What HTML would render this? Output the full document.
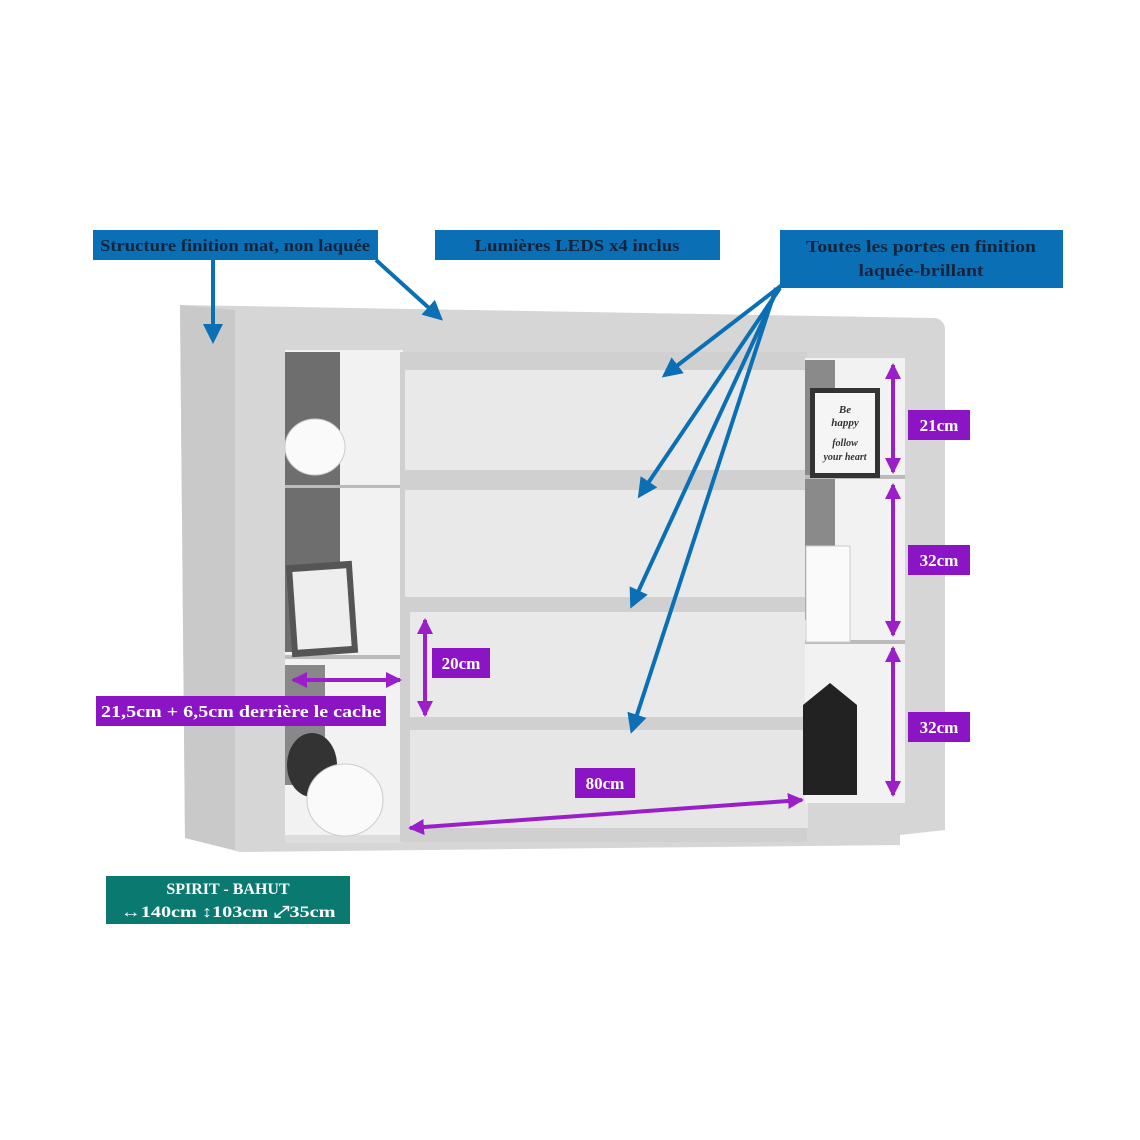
<!DOCTYPE html>
<html><head><meta charset="utf-8"><style>
html,body{margin:0;padding:0;background:#fff}
svg{display:block}
text{font-family:"Liberation Serif",serif;font-weight:bold}
</style></head><body>
<svg width="1140" height="1140" viewBox="0 0 1140 1140" xmlns="http://www.w3.org/2000/svg">
<defs>
<marker id="ab" markerWidth="5" markerHeight="5" refX="4" refY="2.5" orient="auto" markerUnits="strokeWidth"><path d="M0,0 L5,2.5 L0,5 z" fill="#0a6fb5"/></marker>
<marker id="ap" markerWidth="4" markerHeight="4" refX="3.5" refY="2" orient="auto-start-reverse" markerUnits="strokeWidth"><path d="M0,0 L4,2 L0,4 z" fill="#9a1fc9"/></marker>
</defs>
<!-- cabinet body -->
<path d="M180,305 L935,318 Q945,320 945,330 L945,830 L900,835 L900,845 L240,852 L185,838 Z" fill="#d6d6d6"/>
<path d="M180,305 L235,310 L235,850 L185,838 Z" fill="#c9c9c9"/>
<!-- left opening -->
<rect x="285" y="350" width="118" height="492" fill="#f2f2f2"/>
<rect x="285" y="352" width="55" height="300" fill="#6e6e6e"/>
<rect x="285" y="665" width="40" height="120" fill="#888"/>
<rect x="285" y="485" width="118" height="3" fill="#bbb"/>
<rect x="285" y="655" width="118" height="4" fill="#bbb"/>
<rect x="285" y="835" width="118" height="8" fill="#ddd"/>
<ellipse cx="315" cy="447" rx="30" ry="28" fill="#fafafa" stroke="#ccc"/>
<ellipse cx="312" cy="765" rx="25" ry="32" fill="#333"/>
<ellipse cx="345" cy="800" rx="38" ry="36" fill="#fafafa" stroke="#ccc"/>
<rect x="289" y="563" width="66" height="92" fill="#555" transform="rotate(-4 322 609)"/>
<rect x="295" y="570" width="54" height="78" fill="#eee" transform="rotate(-4 322 609)"/>
<!-- center drawers -->
<rect x="400" y="352" width="407" height="490" fill="#d0d0d0"/>
<rect x="405" y="370" width="402" height="100" fill="#e9e9e9"/>
<rect x="405" y="490" width="402" height="107" fill="#e9e9e9"/>
<rect x="410" y="612" width="398" height="105" fill="#e9e9e9"/>
<rect x="410" y="730" width="398" height="98" fill="#e6e6e6"/>
<!-- right opening -->
<rect x="805" y="358" width="100" height="445" fill="#f2f2f2"/>
<rect x="805" y="360" width="30" height="260" fill="#8a8a8a"/>
<rect x="805" y="475" width="100" height="4" fill="#bbb"/>
<rect x="805" y="640" width="100" height="4" fill="#bbb"/>
<rect x="810" y="388" width="70" height="90" fill="#333"/>
<rect x="815" y="393" width="60" height="80" fill="#f5f5f5"/>
<text x="845" y="413" font-size="11" text-anchor="middle" fill="#333" font-style="italic" font-weight="normal">Be</text>
<text x="845" y="426" font-size="11" text-anchor="middle" fill="#333" font-style="italic" font-weight="normal">happy</text>
<text x="845" y="446" font-size="10" text-anchor="middle" fill="#333" font-style="italic" font-weight="normal">follow</text>
<text x="845" y="460" font-size="10" text-anchor="middle" fill="#333" font-style="italic" font-weight="normal">your heart</text>
<rect x="806" y="546" width="44" height="96" fill="#fafafa" stroke="#ccc"/>
<path d="M803,795 L803,705 L830,683 L857,705 L857,795 Z" fill="#222"/>
<!-- blue labels -->
<rect x="93" y="230" width="285" height="30" fill="#0a6fb5"/>
<text x="235" y="251" font-size="17" text-anchor="middle" fill="#14243c" textLength="270" lengthAdjust="spacingAndGlyphs">Structure finition mat, non laquée</text>
<rect x="435" y="230" width="285" height="30" fill="#0a6fb5"/>
<text x="577" y="251" font-size="17" text-anchor="middle" fill="#14243c" textLength="205" lengthAdjust="spacingAndGlyphs">Lumières LEDS x4 inclus</text>
<rect x="780" y="230" width="283" height="58" fill="#0a6fb5"/>
<text x="921" y="252" font-size="17" text-anchor="middle" fill="#14243c" textLength="230" lengthAdjust="spacingAndGlyphs">Toutes les portes en finition</text>
<text x="921" y="276" font-size="17" text-anchor="middle" fill="#14243c" textLength="125" lengthAdjust="spacingAndGlyphs">laquée-brillant</text>
<!-- blue arrows -->
<g stroke="#0a6fb5" stroke-width="4" fill="none" marker-end="url(#ab)">
<line x1="213" y1="260" x2="213" y2="340"/>
<line x1="376" y1="260" x2="440" y2="318"/>
<line x1="782" y1="285" x2="665" y2="375"/>
<line x1="780" y1="288" x2="640" y2="495"/>
<line x1="778" y1="288" x2="632" y2="605"/>
<line x1="776" y1="288" x2="632" y2="730"/>
</g>
<!-- purple dims -->
<g stroke="#9a1fc9" stroke-width="4" fill="none" marker-start="url(#ap)" marker-end="url(#ap)">
<line x1="893" y1="365" x2="893" y2="472"/>
<line x1="893" y1="485" x2="893" y2="635"/>
<line x1="893" y1="648" x2="893" y2="795"/>
<line x1="425" y1="620" x2="425" y2="715"/>
<line x1="293" y1="680" x2="400" y2="680"/>
<line x1="410" y1="828" x2="802" y2="800"/>
</g>
<g fill="#8b14c4">
<rect x="908" y="410" width="62" height="30"/>
<rect x="908" y="545" width="62" height="30"/>
<rect x="908" y="712" width="62" height="30"/>
<rect x="432" y="648" width="58" height="30"/>
<rect x="96" y="696" width="290" height="30"/>
<rect x="575" y="768" width="60" height="30"/>
</g>
<g fill="#fff" font-size="17" text-anchor="middle">
<text x="939" y="431">21cm</text>
<text x="939" y="566">32cm</text>
<text x="939" y="733">32cm</text>
<text x="461" y="669">20cm</text>
<text x="241" y="717" textLength="280" lengthAdjust="spacingAndGlyphs">21,5cm + 6,5cm derrière le cache</text>
<text x="605" y="789">80cm</text>
</g>
<!-- teal label -->
<rect x="106" y="876" width="244" height="48" fill="#0a7a70"/>
<text x="228" y="894" font-size="16" fill="#fff" text-anchor="middle" font-weight="normal">SPIRIT - BAHUT</text>
<text x="228" y="917" font-size="16" fill="#fff" text-anchor="middle" font-weight="normal" textLength="215" lengthAdjust="spacingAndGlyphs">↔140cm ↕103cm ⤢35cm</text>
</svg>
</body></html>
